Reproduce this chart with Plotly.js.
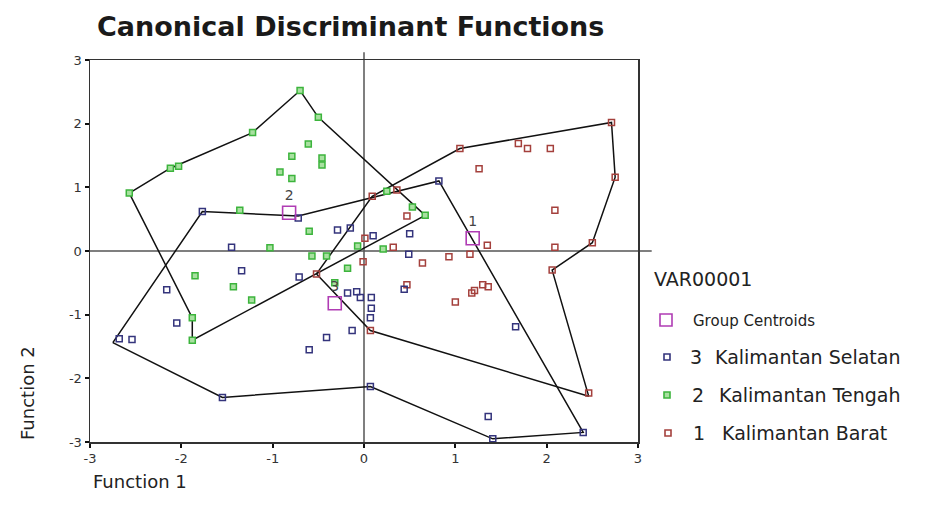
<!DOCTYPE html>
<html>
<head>
<meta charset="utf-8">
<script src="https://cdn.plot.ly/plotly-3.0.1.min.js"></script>
<style>html,body{margin:0;padding:0;background:#fff}#chart{width:930px;height:515px}</style>
</head>
<body>
<div id="chart"></div>
<script>
// ---- data ----
var redX   = [1.05,1.69,1.79,2.04,2.71,2.75,1.26,2.09,2.50,2.09,2.06,1.35,1.16,0.93,1.30,1.36,1.18,1.21,0.64,0.47,1.00,0.07,2.46,0.09,0.36,0.47,0.01,0.32,-0.01,-0.52];
var redY   = [1.61,1.69,1.61,1.61,2.02,1.16,1.29,0.64,0.13,0.06,-0.30,0.09,-0.05,-0.09,-0.53,-0.56,-0.66,-0.62,-0.19,-0.53,-0.80,-1.25,-2.23,0.86,0.96,0.55,0.20,0.06,-0.17,-0.36];
var greenX = [-0.70,-0.50,-1.22,-2.12,-2.03,-2.57,-0.61,-0.79,-0.46,-0.46,-0.92,-0.79,-1.36,-0.60,-1.03,-0.07,-0.57,-0.41,-0.18,-0.32,0.25,0.53,0.67,0.21,-1.85,-1.43,-1.23,-1.88,-1.88];
var greenY = [2.52,2.10,1.86,1.30,1.33,0.91,1.68,1.49,1.46,1.35,1.24,1.14,0.64,0.31,0.05,0.08,-0.08,-0.08,-0.27,-0.50,0.94,0.69,0.56,0.03,-0.39,-0.56,-0.77,-1.05,-1.40];
var blueX  = [-2.68,-2.54,-2.05,-2.16,-1.34,-1.45,-0.71,-0.60,-0.41,-0.13,-1.55,0.07,-1.77,-0.72,-0.29,-0.15,0.10,0.50,0.49,0.44,0.82,0.07,0.08,0.08,-0.18,-0.08,-0.04,1.66,1.36,1.41,2.40];
var blueY  = [-1.38,-1.39,-1.13,-0.61,-0.31,0.06,-0.41,-1.55,-1.36,-1.25,-2.30,-2.13,0.62,0.52,0.33,0.36,0.24,0.27,-0.05,-0.60,1.10,-1.05,-0.90,-0.73,-0.66,-0.64,-0.73,-1.19,-2.60,-2.95,-2.85];
var centroidX = [1.19,-0.82,-0.32];
var centroidY = [0.20,0.60,-0.82];
var centroidLabels = ["1","2","3"];
var hullGreenX = [-2.57,-2.12,-1.22,-0.70,-0.50,0.67,-1.88,-1.88,-2.57];
var hullGreenY = [0.91,1.30,1.86,2.52,2.10,0.56,-1.40,-1.05,0.91];
var hullBlueX  = [-2.75,-1.77,-0.72,0.82,2.40,1.41,0.07,-1.55,-2.75];
var hullBlueY  = [-1.44,0.62,0.55,1.10,-2.85,-2.95,-2.13,-2.30,-1.44];
var hullRedX   = [-0.52,0.09,1.05,2.71,2.75,2.50,2.06,2.46,0.07,-0.52];
var hullRedY   = [-0.36,0.86,1.61,2.02,1.16,0.13,-0.30,-2.28,-1.25,-0.36];
var tickVals = [-3,-2,-1,0,1,2,3];
var tickText = ["-3","-2","-1","0","1","2","3"];
var legendEntries = [
  {num:"3", name:"Kalimantan Selatan"},
  {num:"2", name:"Kalimantan Tengah"},
  {num:"1", name:"Kalimantan Barat"}
];

// ---- styling ----
var FONT = "DejaVu Sans, Liberation Sans, Arial, sans-serif";
var RED = "#a4403c", GREEN = "#3cb43c", GREENFILL = "#a8e0a0", BLUE = "#34347c", MAG = "#b03cb4";
var L = 90, R = 292, T = 60, B = 73, W = 930, H = 515;
var pw = W - L - R, ph = H - T - B;
function px(x){ return (x - L) / pw; }
function py(y){ return (H - B - y) / ph; }

function hull(xs, ys){
  return {x: xs, y: ys, type: "scatter", mode: "lines", line: {color: "#111", width: 1.5}, hoverinfo: "skip", showlegend: false};
}
var traces = [
  hull(hullGreenX, hullGreenY),
  hull(hullBlueX, hullBlueY),
  hull(hullRedX, hullRedY),
  {x: greenX, y: greenY, type: "scatter", mode: "markers", showlegend: false,
   marker: {symbol: "square", size: 6, color: GREENFILL, line: {color: GREEN, width: 1.5}}},
  {x: redX, y: redY, type: "scatter", mode: "markers", showlegend: false,
   marker: {symbol: "square-open", size: 6, color: RED, line: {width: 1.5}}},
  {x: blueX, y: blueY, type: "scatter", mode: "markers", showlegend: false,
   marker: {symbol: "square-open", size: 6, color: BLUE, line: {width: 1.5}}},
  {x: centroidX, y: centroidY, text: centroidLabels, type: "scatter", mode: "markers+text",
   textposition: "top center", textfont: {family: FONT, size: 14, color: "#444"}, showlegend: false,
   marker: {symbol: "square-open", size: 13, color: MAG, line: {width: 1.6}}}
];

var shapes = [
  {type: "line", xref: "paper", yref: "paper", x0: 0.5, x1: 0.5, y0: 0, y1: 1.02, line: {color: "#555", width: 1.5}, layer: "below"},
  {type: "line", xref: "paper", yref: "paper", x0: 0, x1: 1.025, y0: 0.5, y1: 0.5, line: {color: "#555", width: 1.5}, layer: "below"}
];
function sq(cx, cy, s, lineColor, fill){
  shapes.push({type: "rect", xref: "paper", yref: "paper",
    x0: px(cx - s/2), x1: px(cx + s/2), y0: py(cy + s/2), y1: py(cy - s/2),
    line: {color: lineColor, width: 1.6}, fillcolor: fill});
}
sq(666, 320, 12, MAG, "rgba(0,0,0,0)");
sq(667, 357, 6, BLUE, "#fff");
sq(667, 395, 6, GREEN, GREENFILL);
sq(668, 433, 6, RED, "#fff");

function ann(text, x, y, size, opts){
  var a = {text: text, xref: "paper", yref: "paper", x: px(x), y: py(y), xanchor: "left", yanchor: "middle",
    showarrow: false, font: {family: FONT, size: size, color: "#222"}};
  if (opts) for (var k in opts) a[k] = opts[k];
  return a;
}
var annotations = [
  ann("VAR00001", 652, 279, 19),
  ann("Group Centroids", 691, 321, 15),
  ann("Function 1", 91, 481, 18),
  ann("Function 2", 27, 393, 18, {xanchor: "center", textangle: -90})
];
var rowsY = [357, 395, 433], numX = [688, 690, 691], nameX = [713, 717, 720];
legendEntries.forEach(function(e, i){
  annotations.push(ann(e.num, numX[i], rowsY[i], 19));
  annotations.push(ann(e.name, nameX[i], rowsY[i], 19));
});

var axisCommon = {
  range: [-3, 3], tickmode: "array", tickvals: tickVals, ticktext: tickText,
  ticks: "outside", ticklen: 4, tickwidth: 2, tickcolor: "#111",
  showline: true, mirror: true, linecolor: "#333", linewidth: 1.5,
  showgrid: false, zeroline: false, fixedrange: true,
  tickfont: {family: FONT, size: 13, color: "#333"}
};
var layout = {
  width: W, height: H,
  margin: {l: L, r: R, t: T, b: B, pad: 0},
  paper_bgcolor: "#fff", plot_bgcolor: "#fff",
  title: {text: "Canonical Discriminant Functions", xref: "container", yref: "container",
    x: 97/W, xanchor: "left", y: 1 - 27/H, yanchor: "middle",
    font: {family: FONT, size: 27, color: "#1a1a1a", weight: "bold"}},
  xaxis: Object.assign({}, axisCommon),
  yaxis: Object.assign({}, axisCommon),
  shapes: shapes,
  annotations: annotations,
  showlegend: false
};
Plotly.newPlot("chart", traces, layout, {displayModeBar: false, staticPlot: true});
</script>
</body>
</html>
